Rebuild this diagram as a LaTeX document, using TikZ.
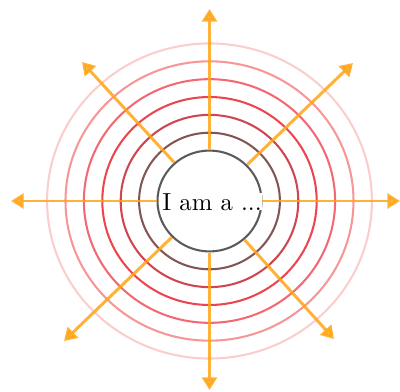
\documentclass[tikz,border=0pt]{standalone}
\usetikzlibrary{arrows.meta}
\definecolor{ring1}{RGB}{90,90,90}
\definecolor{ring2}{RGB}{130,85,85}
\definecolor{ring3}{RGB}{205,70,80}
\definecolor{ring4}{RGB}{235,70,80}
\definecolor{ring5}{RGB}{242,105,115}
\definecolor{ring6}{RGB}{246,150,150}
\definecolor{ring7}{RGB}{251,205,205}
\definecolor{arrcol}{RGB}{255,165,20}
\begin{document}
\begin{tikzpicture}[x=0.4375pt,y=-0.4375pt,
  ringline/.style={line width=0.9pt},
  arr/.style={draw=arrcol, opacity=0.85, line width=1.3pt, -{Triangle[length=5.5pt,width=6.5pt]}}]
\useasboundingbox (0,0) rectangle (400,392);
\node[circle, minimum size=45.5pt, inner sep=0pt] (c) at (209.5,201) {};
\foreach \r/\col in {52/ring1, 70.4/ring2, 88.8/ring3, 107.2/ring4, 125.6/ring5, 144/ring6, 162.4/ring7}
  \draw[ringline, draw=\col] (c.center) ellipse [x radius=\r, y radius=0.97*\r];
\node[fill=white, inner sep=0pt, anchor=base, font=\fontsize{10.8}{12}\selectfont] (t) at (212,210) {I am a ...};
\coordinate (tn) at (209.5,9);
\coordinate (ts) at (209.5,390);
\coordinate (tw) at (11,201);
\coordinate (te) at (400,201);
\coordinate (tnw) at (82,62);
\coordinate (tne) at (353,63);
\coordinate (tsw) at (64,341);
\coordinate (tse) at (334,339);
\foreach \t in {tn,ts,tw,te,tnw,tne,tsw,tse}
  \draw[arr] (c) -- (\t);
\end{tikzpicture}
\end{document}
